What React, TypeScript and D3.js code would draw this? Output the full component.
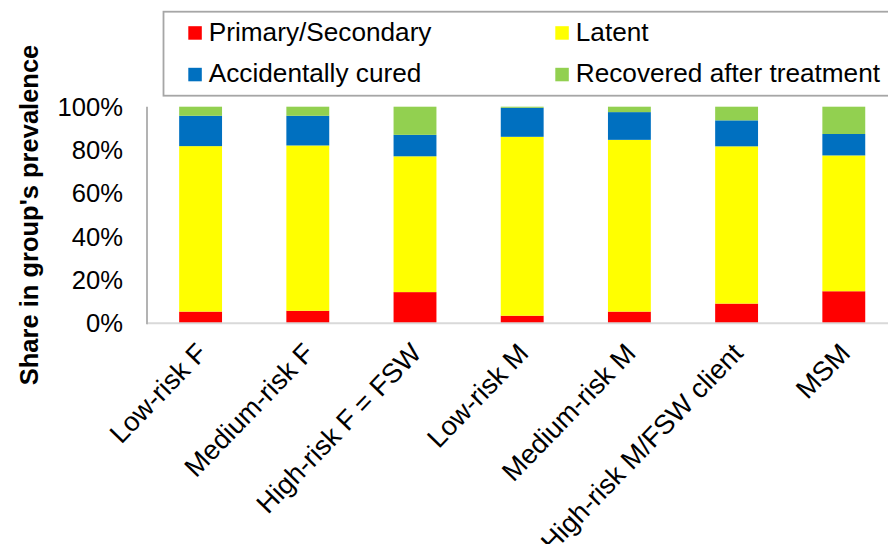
import React from "react";
import * as d3 from "d3";

const categories = ["Low-risk F", "Medium-risk F", "High-risk F = FSW", "Low-risk M", "Medium-risk M", "High-risk M/FSW client", "MSM"];
const seriesNames = ["Primary/Secondary", "Latent", "Accidentally cured", "Recovered after treatment"];
const primarySecondary = [5.4, 5.8, 14.4, 3.5, 5.4, 9.1, 14.8];
const latent = [76.4, 76.3, 62.7, 82.6, 79.3, 72.6, 62.7];
const accidentallyCured = [14.0, 13.7, 9.9, 13.4, 12.8, 12.0, 9.9];
const recoveredAfterTreatment = [4.2, 4.2, 13.0, 0.5, 2.5, 6.3, 12.6];
const yTicks = [0, 20, 40, 60, 80, 100];
const colors = ["#FF0000", "#FFFF00", "#0070C0", "#92D050"];

export default function App() {
  const W = 888, H = 544;
  const plotLeft = 147, plotRight = 897.4, plotTop = 106.7, plotBottom = 323.3;
  const x = d3.scaleBand<string>().domain(categories).range([plotLeft, plotRight]).paddingInner(0.6).paddingOuter(0.3);
  const y = d3.scaleLinear().domain([0, 100]).range([plotBottom, plotTop]);

  const rows = categories.map((c, i) => ({
    cat: c,
    s0: primarySecondary[i],
    s1: latent[i],
    s2: accidentallyCured[i],
    s3: recoveredAfterTreatment[i],
  }));
  const stack = d3.stack<any>().keys(["s0", "s1", "s2", "s3"]);
  const layers = stack(rows);
  const font = "Arial, 'Liberation Sans', sans-serif";

  const legendItems = [
    { name: seriesNames[0], color: colors[0], sx: 188.3, ty: 40.7 },
    { name: seriesNames[1], color: colors[1], sx: 555.3, ty: 40.7 },
    { name: seriesNames[2], color: colors[2], sx: 188.3, ty: 82.3 },
    { name: seriesNames[3], color: colors[3], sx: 555.3, ty: 82.3 },
  ];

  return (
    <svg width={W} height={H} style={{ position: "absolute", left: 0, top: 0, background: "#fff" }} fontFamily={font}>
      <rect x={0} y={0} width={W} height={H} fill="#fff" />
      {/* legend */}
      <rect x={163.5} y={11.7} width={760} height={84} fill="#fff" stroke="#a6a6a6" strokeWidth={1.8} />
      {legendItems.map((l) => (
        <g key={l.name}>
          <rect x={l.sx} y={l.ty - 14.5} width={13.5} height={13.5} fill={l.color} />
          <text x={l.sx + 20.5} y={l.ty} fontSize={26.2} fill="#000">{l.name}</text>
        </g>
      ))}
      {/* bars */}
      {layers.map((layer, li) => (
        <g key={li} fill={colors[li]}>
          {layer.map((d: any, i: number) => (
            <rect key={i} x={x(categories[i])} width={x.bandwidth()} y={y(d[1])} height={y(d[0]) - y(d[1])} />
          ))}
        </g>
      ))}
      {/* axes */}
      <line x1={plotLeft} x2={W} y1={plotBottom} y2={plotBottom} stroke="#d9d9d9" strokeWidth={2} />
      <line x1={plotLeft} x2={plotLeft} y1={plotTop} y2={plotBottom + 1} stroke="#b3b3b3" strokeWidth={2} />
      {yTicks.map((t) => (
        <text key={t} x={123} y={y(t)} dy="0.35em" textAnchor="end" fontSize={25.6} fill="#000">{t}%</text>
      ))}
      {categories.map((c) => {
        const cx = (x(c) as number) + x.bandwidth() / 2;
        return (
          <text key={c} transform={`translate(${cx + 1},${348}) rotate(-46)`} dy="0.35em" textAnchor="end" fontSize={27.2} fill="#000">{c}</text>
        );
      })}
      <text transform={`translate(38,${(plotTop + plotBottom) / 2}) rotate(-90)`} textAnchor="middle" fontSize={25.5} fontWeight="bold" fill="#000">Share in group's prevalence</text>
    </svg>
  );
}
